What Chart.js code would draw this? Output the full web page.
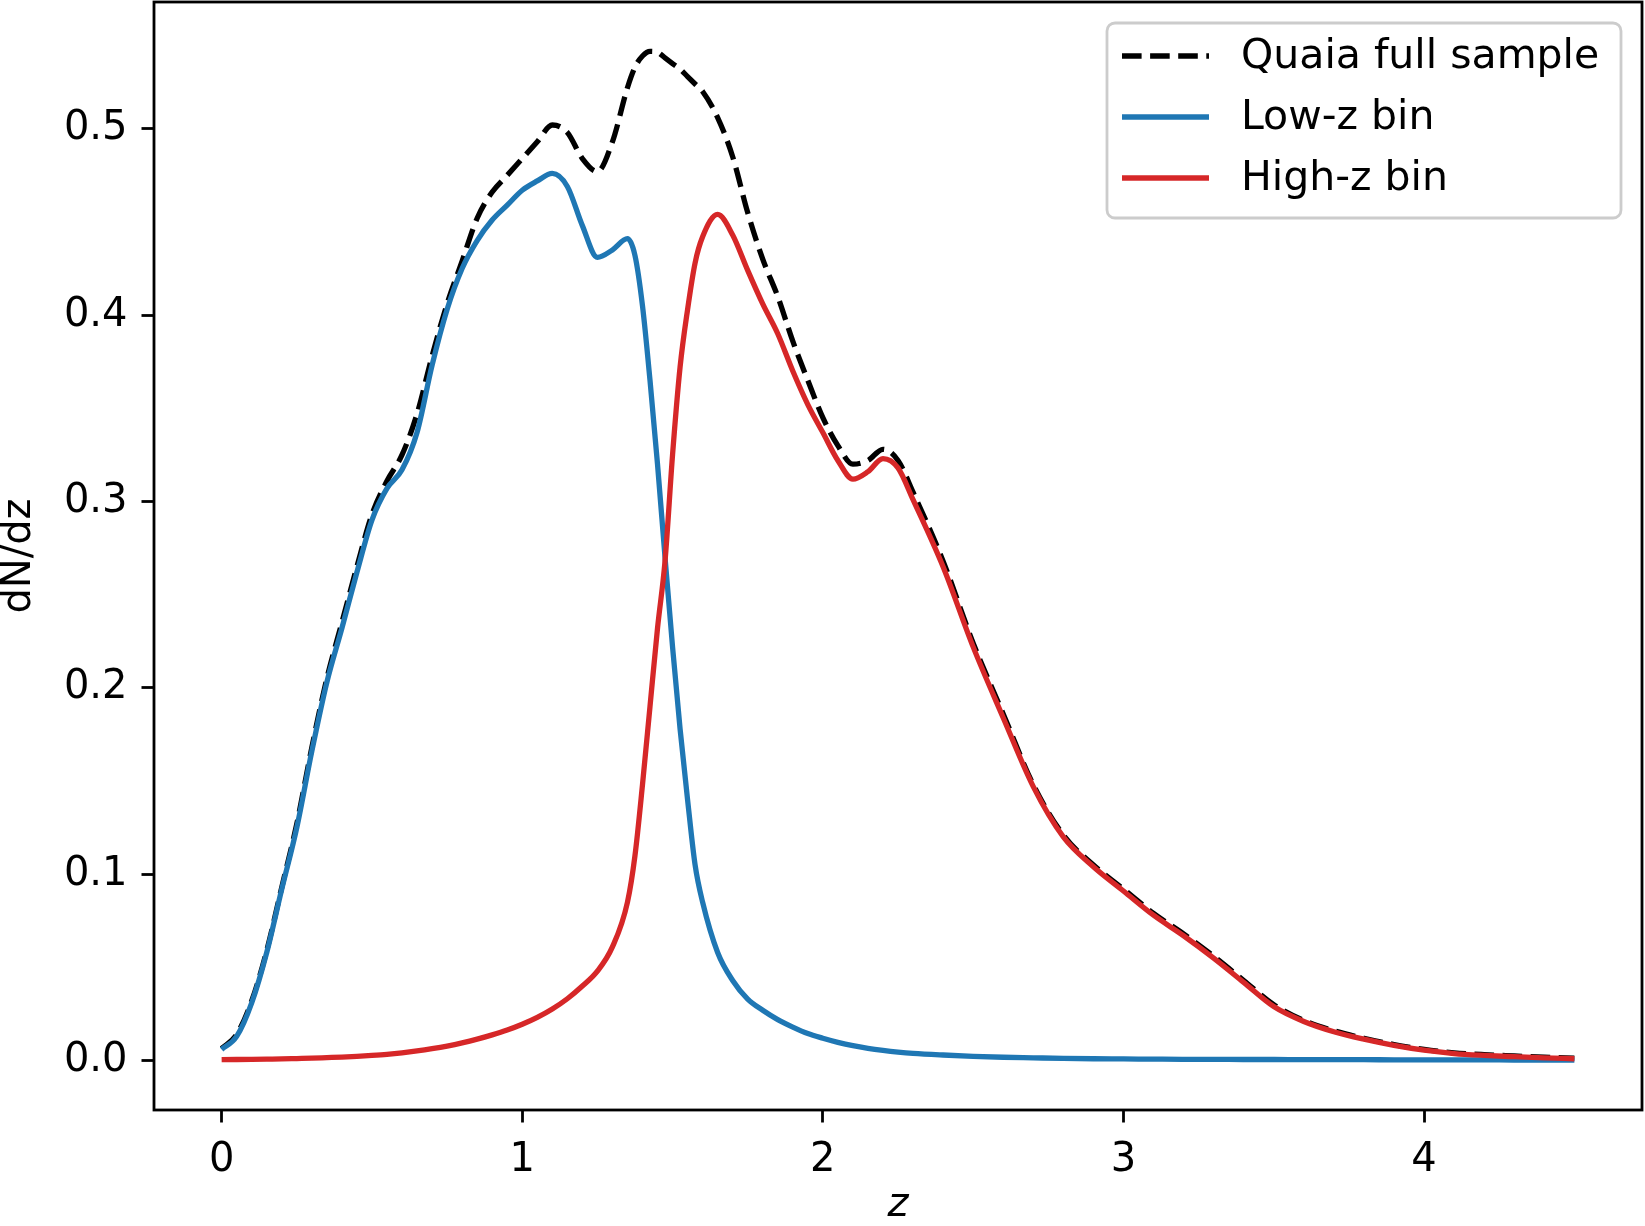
<!DOCTYPE html>
<html>
<head>
<meta charset="utf-8">
<script src="https://cdn.jsdelivr.net/npm/chart.js@4.4.1/dist/chart.umd.min.js"></script>
<style>
  html, body { margin: 0; padding: 0; background: #fff; }
  #wrap { width: 1645px; height: 1226px; }
</style>
</head>
<body>
<div id="wrap"><canvas id="dndz"></canvas></div>
<script>
// redshift grid (shared by the three curves)
const zGrid = [0, 0.05, 0.1, 0.15, 0.2, 0.25, 0.3, 0.35, 0.4, 0.45, 0.5, 0.55, 0.6, 0.65, 0.7, 0.75,
  0.8, 0.85, 0.9, 0.95, 1.0, 1.05, 1.1, 1.15, 1.2, 1.25, 1.3, 1.35, 1.375, 1.4, 1.425, 1.45, 1.475,
  1.5, 1.525, 1.55, 1.575, 1.6, 1.65, 1.7, 1.75, 1.8, 1.85, 1.9, 1.95, 2.0, 2.05, 2.1, 2.15, 2.2,
  2.25, 2.3, 2.4, 2.5, 2.6, 2.7, 2.8, 2.9, 3.0, 3.1, 3.2, 3.3, 3.4, 3.5, 3.6, 3.7, 3.8, 3.9, 4.0,
  4.1, 4.2, 4.3, 4.4, 4.5];

const fullSample = [0.0065, 0.014, 0.032, 0.059, 0.093, 0.127, 0.168, 0.205, 0.235, 0.265, 0.293,
  0.311, 0.325, 0.347, 0.378, 0.406, 0.429, 0.452, 0.466, 0.475, 0.484, 0.493, 0.502, 0.498, 0.484,
  0.477, 0.493, 0.522, 0.533, 0.539, 0.5415, 0.541, 0.538, 0.535, 0.532, 0.528, 0.524, 0.520, 0.506,
  0.485, 0.455, 0.430, 0.410, 0.386, 0.365, 0.345, 0.330, 0.320, 0.322, 0.328, 0.322, 0.305, 0.268,
  0.224, 0.186, 0.148, 0.121, 0.105, 0.092, 0.079, 0.068, 0.056, 0.043, 0.030, 0.0215, 0.016, 0.012,
  0.0086, 0.006, 0.0042, 0.0032, 0.0025, 0.0018, 0.0013];

const lowZ = [0.006, 0.013, 0.031, 0.058, 0.092, 0.125, 0.166, 0.203, 0.232, 0.262, 0.290, 0.307,
  0.317, 0.337, 0.373, 0.403, 0.425, 0.440, 0.451, 0.459, 0.467, 0.472, 0.476, 0.469, 0.448, 0.431,
  0.435, 0.441, 0.432, 0.405, 0.365, 0.320, 0.270, 0.222, 0.178, 0.140, 0.105, 0.085, 0.058, 0.043,
  0.033, 0.027, 0.022, 0.018, 0.0145, 0.012, 0.0098, 0.008, 0.0066, 0.0055, 0.0046, 0.0039, 0.003,
  0.0023, 0.0018, 0.0015, 0.0012, 0.001, 0.0009, 0.0008, 0.0007, 0.0007, 0.0006, 0.0006, 0.0005,
  0.0005, 0.0005, 0.0004, 0.0004, 0.0004, 0.0004, 0.0003, 0.0003, 0.0003];

const highZ = [0.0005, 0.0006, 0.0007, 0.0008, 0.0009, 0.0011, 0.0013, 0.0016, 0.0019, 0.0023,
  0.0028, 0.0034, 0.0042, 0.0052, 0.0064, 0.0078, 0.0095, 0.0115, 0.0138, 0.0164, 0.0195, 0.0232,
  0.0277, 0.0332, 0.040, 0.048, 0.061, 0.085, 0.110, 0.148, 0.190, 0.232, 0.268, 0.325, 0.372, 0.403,
  0.428, 0.442, 0.454, 0.443, 0.424, 0.406, 0.390, 0.370, 0.352, 0.337, 0.322, 0.312, 0.316, 0.323,
  0.318, 0.301, 0.265, 0.222, 0.184, 0.147, 0.120, 0.104, 0.091, 0.078, 0.067, 0.055, 0.042, 0.029,
  0.021, 0.0155, 0.0115, 0.0082, 0.0056, 0.0038, 0.0028, 0.0021, 0.0015, 0.001];

const xTicks = [0, 1, 2, 3, 4];
const yTicks = [0.0, 0.1, 0.2, 0.3, 0.4, 0.5];
const yTickLabels = ["0.0", "0.1", "0.2", "0.3", "0.4", "0.5"];

const FONT = "'DejaVu Sans', sans-serif";

function pts(ys) {
  return zGrid.map((z, i) => ({ x: z, y: ys[i] }));
}

// spines on all four sides, like matplotlib
const frame = {
  id: "frame",
  afterDraw(chart) {
    const { ctx, chartArea: a } = chart;
    ctx.save();
    ctx.strokeStyle = "#000";
    ctx.lineWidth = 2.8;
    ctx.strokeRect(a.left, a.top, a.right - a.left, a.bottom - a.top);
    ctx.restore();
  },
};

// legend box inside the axes, upper right
const legendBox = {
  id: "legendBox",
  afterDatasetsDraw(chart) {
    const { ctx, chartArea: a } = chart;
    const w = 514, h = 195;
    const x0 = a.right - 21 - w, y0 = a.top + 21;
    ctx.save();
    ctx.beginPath();
    ctx.roundRect(x0, y0, w, h, 8);
    ctx.fillStyle = "rgba(255,255,255,0.8)";
    ctx.fill();
    ctx.strokeStyle = "#cccccc";
    ctx.lineWidth = 2.8;
    ctx.stroke();
    ctx.font = "41px " + FONT;
    ctx.textBaseline = "middle";
    chart.data.datasets.forEach((ds, i) => {
      const cy = y0 + 33 + i * 61;
      ctx.beginPath();
      ctx.setLineDash(ds.borderDash || []);
      ctx.strokeStyle = ds.borderColor;
      ctx.lineWidth = ds.borderWidth;
      ctx.moveTo(x0 + 15, cy);
      ctx.lineTo(x0 + 102, cy);
      ctx.stroke();
      ctx.setLineDash([]);
      ctx.fillStyle = "#000";
      ctx.fillText(ds.label, x0 + 134, cy + 1);
    });
    ctx.restore();
  },
};

new Chart(document.getElementById("dndz"), {
  type: "line",
  data: {
    datasets: [
      { label: "Quaia full sample", data: pts(fullSample), borderColor: "#000000",
        borderDash: [19.6, 8.5], borderWidth: 5.3, order: 3 },
      { label: "Low-z bin", data: pts(lowZ), borderColor: "#1f77b4", borderWidth: 5.3, order: 2 },
      { label: "High-z bin", data: pts(highZ), borderColor: "#d62728", borderWidth: 5.3, order: 1 },
    ],
  },
  options: {
    responsive: true,
    maintainAspectRatio: false,
    animation: false,
    devicePixelRatio: 1,
    layout: { padding: { left: 0, right: 3, top: 2, bottom: 0 } },
    elements: {
      point: { radius: 0 },
      line: { cubicInterpolationMode: "monotone", fill: false, borderCapStyle: "butt" },
    },
    plugins: { legend: { display: false }, tooltip: { enabled: false } },
    scales: {
      x: {
        type: "linear",
        min: -0.225,
        max: 4.725,
        afterBuildTicks: (axis) => { axis.ticks = xTicks.map((v) => ({ value: v })); },
        afterFit: (scale) => {
          scale.height = 116;
          scale.paddingLeft = 0;
          scale.paddingRight = 0;
        },
        ticks: { color: "#000", font: { family: FONT, size: 40 }, padding: 14,
          maxRotation: 0, callback: (v) => String(v) },
        grid: { display: true, drawOnChartArea: false, drawTicks: true, tickLength: 12.5,
          tickWidth: 2.8, tickColor: "#000" },
        border: { display: false },
        title: { display: true, text: "z", color: "#000", padding: 0,
          font: { family: FONT, size: 40, style: "italic", lineHeight: 1.0 } },
      },
      y: {
        type: "linear",
        min: -0.0265,
        max: 0.568,
        afterBuildTicks: (axis) => { axis.ticks = yTicks.map((v) => ({ value: v })); },
        afterFit: (scale) => {
          scale.width = 154;
          scale.paddingTop = 0;
          scale.paddingBottom = 0;
        },
        ticks: { color: "#000", font: { family: FONT, size: 40 }, padding: 14,
          callback: (v) => yTickLabels[yTicks.findIndex((t) => Math.abs(t - v) < 1e-9)] },
        grid: { display: true, drawOnChartArea: false, drawTicks: true, tickLength: 12.5,
          tickWidth: 2.8, tickColor: "#000" },
        border: { display: false },
        title: { display: true, text: "dN/dz", color: "#000", padding: 0,
          font: { family: FONT, size: 40, lineHeight: 1.0 } },
      },
    },
  },
  plugins: [legendBox, frame],
});
</script>
</body>
</html>
